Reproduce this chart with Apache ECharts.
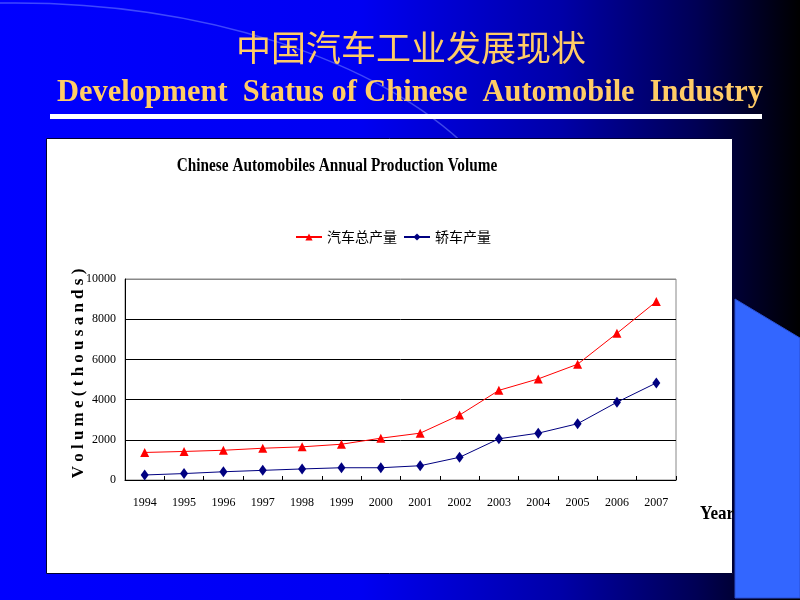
<!DOCTYPE html>
<html>
<head>
<meta charset="utf-8">
<script src="https://cdn.jsdelivr.net/npm/echarts@6/dist/echarts.min.js"></script>
<style>html,body{margin:0;padding:0;background:#0000ff}#c{width:800px;height:600px}</style>
</head>
<body>
<div id="c"></div>
<script>
var years = ['1994','1995','1996','1997','1998','1999','2000','2001','2002','2003','2004','2005','2006','2007'];
var totalProduction = [1370, 1420, 1480, 1580, 1650, 1780, 2080, 2330, 3230, 4460, 5030, 5760, 7300, 8880];
var carProduction = [250, 320, 410, 480, 550, 610, 610, 710, 1130, 2050, 2330, 2800, 3870, 4830];
var yTicks = [0, 2000, 4000, 6000, 8000, 10000];
var seriesNames = ['汽车总产量', '轿车产量'];

var chart = echarts.init(document.getElementById('c'), null, {renderer: 'canvas'});
var serif = '"Liberation Serif", "Times New Roman", serif';
var option = {
  animation: false,
  backgroundColor: new echarts.graphic.LinearGradient(0, 0, 1, 0, [
    {offset: 0, color: '#0000ff'},
    {offset: 0.45, color: '#0000f2'},
    {offset: 0.7, color: '#0000a8'},
    {offset: 0.87, color: '#000055'},
    {offset: 1, color: '#000000'}
  ]),
  graphic: [
    {type: 'bezierCurve', z: -20, silent: true,
      shape: {x1: 0, y1: 3, cpx1: 200, cpy1: 0, cpx2: 380, cpy2: 60, x2: 470, y2: 150},
      style: {stroke: 'rgba(140,160,255,0.45)', lineWidth: 1.5, fill: null}},
    {type: 'polygon', z: -20, silent: true,
      shape: {points: [[735, 299], [800, 338], [800, 598], [735, 598]]},
      style: {fill: '#3366ff', stroke: '#2a4fd0', lineWidth: 1}},
    {type: 'rect', z: -20, silent: true,
      shape: {x: 50, y: 114, width: 712, height: 5},
      style: {fill: '#ffffff'}},
    {type: 'rect', z: -20, silent: true,
      shape: {x: 46.5, y: 138.5, width: 686, height: 435},
      style: {fill: '#ffffff', stroke: '#000033', lineWidth: 1}},
    {type: 'text', z: 10, x: 411, y: 48, silent: true,
      style: {text: '中国汽车工业发展现状', fontFamily: '"Noto Sans CJK SC", sans-serif', fontSize: 35,
        fill: '#ffcc66', align: 'center', verticalAlign: 'middle',
        shadowColor: 'rgba(0,0,0,0.8)', shadowOffsetX: 2, shadowOffsetY: 2, shadowBlur: 1}},
    {type: 'text', z: 10, x: 410, y: 93, scaleX: 0.95, silent: true,
      style: {text: 'Development  Status of Chinese  Automobile  Industry', fontFamily: serif, fontWeight: 'bold', fontSize: 32,
        fill: '#ffcc66', align: 'center', verticalAlign: 'middle',
        shadowColor: 'rgba(0,0,0,0.8)', shadowOffsetX: 2, shadowOffsetY: 2, shadowBlur: 1}},
    {type: 'text', z: 10, x: 337, y: 166, scaleX: 0.85, silent: true,
      style: {text: 'Chinese Automobiles Annual Production Volume', fontFamily: serif, fontWeight: 'bold', fontSize: 18,
        fill: '#000000', align: 'center', verticalAlign: 'middle'}},
    {type: 'text', z: 10, x: 700, y: 514, scaleX: 0.9, silent: true,
      style: {text: 'Year', fontFamily: serif, fontWeight: 'bold', fontSize: 19,
        fill: '#000000', align: 'left', verticalAlign: 'middle'}}
  ],
  legend: {
    data: seriesNames,
    left: 290, top: 225, itemGap: 6, itemWidth: 26, itemHeight: 9,
    textStyle: {fontFamily: '"Noto Sans CJK SC", sans-serif', fontSize: 14, color: '#000'}
  },
  grid: {left: 125, right: 124, top: 279, bottom: 120, show: true, borderColor: '#888', borderWidth: 1, backgroundColor: 'transparent'},
  xAxis: {
    type: 'category', data: years, boundaryGap: true,
    axisLine: {lineStyle: {color: '#000', width: 1}},
    axisTick: {show: true, inside: true, length: 4, lineStyle: {color: '#000'}},
    axisLabel: {color: '#000', fontFamily: serif, fontSize: 12, margin: 17}
  },
  yAxis: {
    type: 'value', min: yTicks[0], max: yTicks[yTicks.length - 1], interval: 2000,
    name: 'V o l u m e ( t h o u s a n d s )', nameLocation: 'middle', nameRotate: 90, nameGap: 38,
    nameMoveOverlap: false,
    nameTextStyle: {fontFamily: serif, fontWeight: 'bold', fontSize: 17, color: '#000', padding: [0, 0, 0, 12]},
    axisLine: {show: true, lineStyle: {color: '#000', width: 1}},
    axisTick: {show: false},
    axisLabel: {color: '#000', fontFamily: serif, fontSize: 12, margin: 9, formatter: function (v) { return String(v); }},
    splitLine: {show: true, lineStyle: {color: ['#000', '#000', '#000', '#000', '#000', '#888'], width: 1}}
  },
  series: [
    {name: seriesNames[0], type: 'line', data: totalProduction, symbol: 'triangle', symbolSize: [9, 9],
      lineStyle: {color: '#ff0000', width: 1}, itemStyle: {color: '#ff0000'}},
    {name: seriesNames[1], type: 'line', data: carProduction, symbol: 'diamond', symbolSize: [8, 11],
      lineStyle: {color: '#000080', width: 1}, itemStyle: {color: '#000080'}}
  ]
};
chart.setOption(option);
</script>
</body>
</html>
